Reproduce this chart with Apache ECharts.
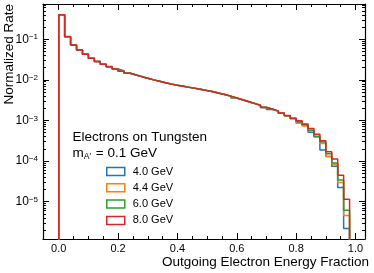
<!DOCTYPE html>
<html><head><meta charset="utf-8">
<script src="https://cdn.jsdelivr.net/npm/echarts@6/dist/echarts.min.js"></script>
<style>html,body{margin:0;padding:0;background:#fff}#c{width:374px;height:273px}</style>
</head><body><div id="c"></div>
<script>
// Left edges of the histogram bins (width 0.02); last bin closes at 0.98
const binLeft = [0.00,0.02,0.04,0.06,0.08,0.10,0.12,0.14,0.16,0.18,
  0.20,0.22,0.24,0.26,0.28,0.30,0.32,0.34,0.36,0.38,
  0.40,0.42,0.44,0.46,0.48,0.50,0.52,0.54,0.56,0.58,
  0.60,0.62,0.64,0.66,0.68,0.70,0.72,0.74,0.76,0.78,
  0.80,0.82,0.84,0.86,0.88,0.90,0.92,0.94,0.96];
const lastEdge = 0.98;
const seriesNames = ['4.0 GeV','4.4 GeV','6.0 GeV','8.0 GeV'];
const seriesColors = ['#1f77b4','#ff7f0e','#2ca02c','#d62728'];

const rate40 = [0.40,0.116,0.072,0.0545,0.0428,0.0340,0.0283,0.0244,0.0212,0.0185,
  0.0167,0.0147,0.0132,0.0121,0.0110,0.0100,0.00925,0.00853,0.00788,0.00735,
  0.00700,0.00655,0.00620,0.00585,0.00548,0.00515,0.00472,0.00437,0.00398,0.00357,
  0.00322,0.00288,0.00262,0.00235,0.00209,0.00186,0.00170,0.00150,0.00130,0.00112,
  0.000871,0.000760,0.000513,0.000398,0.000186,0.000129,0.0000741,0.0000224,0.00000219];
const rate44 = [0.40,0.116,0.072,0.0543,0.0428,0.0339,0.0282,0.0243,0.0211,0.0184,
  0.0164,0.0146,0.0133,0.0120,0.0110,0.0100,0.00920,0.00851,0.00785,0.00733,
  0.00692,0.00653,0.00617,0.00580,0.00543,0.00507,0.00468,0.00435,0.00396,0.00357,
  0.00322,0.00290,0.00261,0.00235,0.00208,0.00188,0.00169,0.00150,0.00129,0.00111,
  0.000851,0.000733,0.000562,0.000407,0.000269,0.000129,0.0000832,0.0000295,0.00000457];
const rate60 = [0.40,0.115,0.072,0.0543,0.0432,0.0339,0.0282,0.0243,0.0211,0.0184,
  0.0164,0.0146,0.0133,0.0120,0.0110,0.0100,0.00923,0.00851,0.00785,0.00733,
  0.00692,0.00653,0.00617,0.00582,0.00548,0.00507,0.00468,0.00432,0.00398,0.00355,
  0.00318,0.00290,0.00263,0.00235,0.00209,0.00189,0.00170,0.00151,0.00130,0.00112,
  0.000930,0.000790,0.000575,0.000400,0.000295,0.000151,0.0000891,0.0000339,0.00000617];
const rate80 = [0.40,0.117,0.072,0.0543,0.0427,0.0339,0.0282,0.0243,0.0211,0.0184,
  0.0164,0.0146,0.0132,0.0120,0.0110,0.0100,0.00923,0.00851,0.00785,0.00733,
  0.00692,0.00653,0.00617,0.00582,0.00543,0.00507,0.00468,0.00437,0.00398,0.00359,
  0.00324,0.00292,0.00263,0.00237,0.00211,0.00191,0.00172,0.00153,0.00132,0.00114,
  0.000977,0.000813,0.000630,0.000457,0.000316,0.000170,0.000112,0.0000447,0.0000115];
const rates = [rate40, rate44, rate60, rate80];

const xMajorTicks = [0.0,0.2,0.4,0.6,0.8,1.0];
const xMinorTicks = [0.05,0.10,0.15,0.25,0.30,0.35,0.45,0.50,0.55,0.65,0.70,0.75,0.85,0.90,0.95];
const yMajorTicks = [1e-5,1e-4,1e-3,1e-2,1e-1];
const yMinorTicks = [2e-6,3e-6,4e-6,5e-6,6e-6,7e-6,8e-6,9e-6,
  2e-5,3e-5,4e-5,5e-5,6e-5,7e-5,8e-5,9e-5,
  2e-4,3e-4,4e-4,5e-4,6e-4,7e-4,8e-4,9e-4,
  2e-3,3e-3,4e-3,5e-3,6e-3,7e-3,8e-3,9e-3,
  2e-2,3e-2,4e-2,5e-2,6e-2,7e-2,8e-2,9e-2,
  2e-1,3e-1,4e-1,5e-1,6e-1,7e-1];

const FONT = '"Liberation Sans", Arial, Helvetica, sans-serif';
const floorVal = 1e-8;
const XMIN = -0.053, XMAX = 1.032, YMIN = 1.2e-6, YMAX = 0.74;

function histPoints(vals) {
  const pts = [[binLeft[0], floorVal]];
  binLeft.forEach((x, i) => pts.push([x, vals[i]]));
  pts.push([lastEdge, vals[vals.length - 1]]);
  pts.push([lastEdge, floorVal]);
  return pts;
}

const chart = echarts.init(document.getElementById('c'), null, {renderer: 'canvas'});

function xAxisDef(pos, ticks, len, showLine, showLabel) {
  return {
    type: 'value', position: pos, min: XMIN, max: XMAX, gridIndex: 0,
    axisLine: {show: showLine, onZero: false, lineStyle: {color: '#000', width: 1.2}},
    axisTick: {show: true, inside: true, length: len, customValues: ticks, lineStyle: {color: '#000', width: 1}},
    axisLabel: {show: showLabel, customValues: ticks, margin: 4, color: '#000', fontSize: 11, fontFamily: FONT,
      formatter: v => v.toFixed(1)},
    splitLine: {show: false}
  };
}
function yAxisDef(pos, ticks, len, showLine, showLabel) {
  return {
    type: 'log', logBase: 10, position: pos, min: YMIN, max: YMAX, gridIndex: 0,
    axisLine: {show: showLine, onZero: false, lineStyle: {color: '#000', width: 1.2}},
    axisTick: {show: true, inside: true, length: len, customValues: ticks, lineStyle: {color: '#000', width: 1}},
    axisLabel: {show: showLabel, customValues: ticks, margin: 5, color: '#000', fontFamily: FONT,
      formatter: v => '{b|10}{s|\u2212' + Math.round(-Math.log10(v)) + '}',
      rich: {
        b: {fontSize: 12, lineHeight: 12, fontFamily: FONT, color: '#000'},
        s: {fontSize: 8, lineHeight: 12, verticalAlign: 'top', fontFamily: FONT, color: '#000'}
      }},
    splitLine: {show: false}
  };
}

const option = {
  animation: false,
  backgroundColor: '#fff',
  grid: {left: 43, right: 9, top: 4, bottom: 34, containLabel: false},
  xAxis: [
    xAxisDef('bottom', xMajorTicks, 6, true, true),
    xAxisDef('bottom', xMinorTicks, 3, false, false),
    xAxisDef('top', xMajorTicks, 6, true, false),
    xAxisDef('top', xMinorTicks, 3, false, false)
  ],
  yAxis: [
    yAxisDef('left', yMajorTicks, 6, true, true),
    yAxisDef('left', yMinorTicks, 3, false, false),
    yAxisDef('right', yMajorTicks, 6, true, false),
    yAxisDef('right', yMinorTicks, 3, false, false)
  ],
  legend: {
    orient: 'vertical', left: 106, top: 166, padding: 0, itemWidth: 18, itemHeight: 8, itemGap: 5.3,
    textStyle: {fontSize: 11, lineHeight: 11, color: '#000', fontFamily: FONT, padding: [0, 0, 0, 3]},
    data: seriesNames.map((n, i) => ({
      name: n, icon: 'rect',
      itemStyle: {color: 'rgba(255,255,255,0)', borderColor: seriesColors[i], borderWidth: 1.5}
    }))
  },
  series: seriesNames.map((n, i) => ({
    name: n, type: 'line', step: 'end', xAxisIndex: 0, yAxisIndex: 0,
    data: histPoints(rates[i]), showSymbol: false, symbol: 'none', clip: true,
    color: seriesColors[i],
    lineStyle: {color: seriesColors[i], width: 1.5},
    z: 2 + i
  })),
  graphic: [
    {type: 'text', x: 9.5, y: 4, rotation: Math.PI / 2,
      style: {text: 'Normalized Rate', fontSize: 13.5, fontFamily: FONT, fill: '#000', align: 'right', verticalAlign: 'middle'}},
    {type: 'text', x: 369, y: 262,
      style: {text: 'Outgoing Electron Energy Fraction', fontSize: 13.5, fontFamily: FONT, fill: '#000', align: 'right', verticalAlign: 'middle'}},
    {type: 'text', x: 72.5, y: 137,
      style: {text: 'Electrons on Tungsten', fontSize: 13.5, fontFamily: FONT, fill: '#000', align: 'left', verticalAlign: 'middle'}},
    {type: 'text', x: 72.5, y: 153,
      style: {text: '{m|m}{s|A\u2032}{n| = 0.1 GeV}', align: 'left', verticalAlign: 'middle', fill: '#000',
        rich: {
          m: {fontSize: 13.5, lineHeight: 16, fontFamily: FONT, fill: '#000', color: '#000'},
          s: {fontSize: 8.5, lineHeight: 16, verticalAlign: 'bottom', fontFamily: FONT, fill: '#000', color: '#000', padding: [0, 1, 0, 0]},
          n: {fontSize: 13.5, lineHeight: 16, fontFamily: FONT, fill: '#000', color: '#000'}
        }}}
  ]
};
chart.setOption(option);
</script></body></html>
